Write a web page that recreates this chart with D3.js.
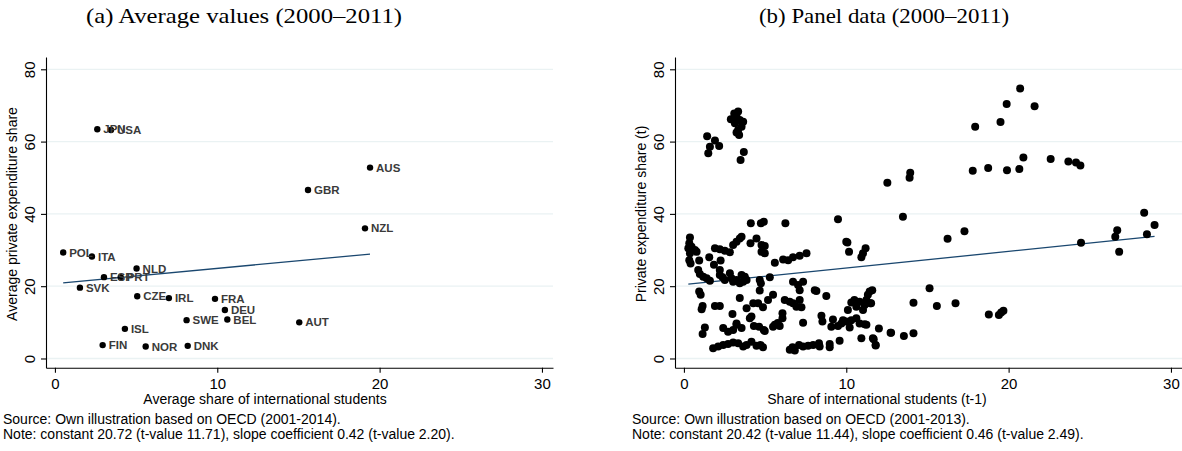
<!DOCTYPE html>
<html>
<head>
<meta charset="utf-8">
<script src="https://cdn.jsdelivr.net/npm/d3@7"></script>
<style>
  body { margin: 0; background: #fff; }
  svg { display: block; font-family: "Liberation Sans", Arial, sans-serif; }
  .grid line { stroke: #eaf2f3; stroke-width: 1.3; }
  .axis path, .axis line { stroke: #000; stroke-width: 1.1; }
  .axis text { font-size: 15px; fill: #000; }
  .ctry { font-size: 11.5px; font-weight: bold; fill: #3a3a3a; }
</style>
</head>
<body>
<svg id="chart" width="1182" height="451"></svg>
<script>
// (a) country averages 2000-2011
var countries = ["JPN","USA","AUS","GBR","NZL","POL","ITA","NLD","ESP","PRT","SVK","CZE","IRL","FRA","DEU","BEL","SWE","AUT","ISL","FIN","NOR","DNK"];
var avgShare = [2.61, 3.45, 19.41, 15.59, 19.1, 0.51, 2.28, 5.03, 3.02, 4.05, 1.54, 5.07, 7.02, 9.86, 10.47, 10.62, 8.11, 15.05, 4.31, 2.94, 5.59, 8.18];
var avgPrivate = [63.4, 63.2, 52.8, 46.6, 36.0, 29.3, 28.2, 24.9, 22.5, 22.5, 19.6, 17.2, 16.7, 16.5, 13.4, 10.8, 10.6, 10.0, 8.2, 3.7, 3.3, 3.5];

// (b) country-year panel
var panelShare = [1.43,1.60,1.50,1.91,2.17,
  2.89,3.10,3.34,3.24,3.14,3.44,3.65,3.55,3.34,3.24,3.40,3.69,3.49,
  12.53,13.94,13.90,20.71,19.88,21.60,19.50,17.94,
  17.79,18.74,19.90,20.66,20.91,22.59,23.68,24.15,24.42,
  13.49,16.24,17.28,24.46,26.57,26.69,28.35,28.52,28.99,26.81,
  15.13,14.14,15.58,16.73,12.73,13.55,14.14,11.69,11.81,12.01,
  18.78,19.40,19.54,19.68,
  4.12,4.74,4.92,6.25,9.49,10.07,4.47,4.10,3.55,
  0.37,0.33,0.27,0.47,0.37,0.68,0.78,0.33,0.41,0.94,0.88,0.98,1.19,1.40,1.60,0.94,1.03,1.15,1.09,1.29,1.15,
  1.56,1.85,2.26,1.91,2.21,2.52,2.83,3.03,3.24,3.44,
  2.21,2.21,2.38,2.52,2.83,2.93,3.03,3.24,3.44,3.65,3.55,3.75,3.86,3.44,
  4.78,4.98,4.78,4.98,4.67,4.74,4.67,5.29,5.18,5.49,
  5.60,6.11,6.42,6.72,7.13,7.55,
  1.91,2.21,2.99,3.86,4.27,4.57,4.87,4.06,4.31,4.63,4.92,
  2.42,2.72,3.03,3.24,3.55,5.49,5.90,6.07,6.07,
  1.80,2.11,2.42,2.72,3.03,3.34,3.65,3.86,4.16,4.47,4.72,4.87,
  6.52,6.69,6.83,7.09,7.34,7.65,7.96,8.32,8.36,8.98,8.98,9.59,
  6.21,6.52,6.72,7.13,6.93,7.24,7.34,
  6.72,7.03,7.13,7.34,8.06,8.16,8.77,
  8.47,8.53,9.18,9.08,9.49,9.70,9.80,10.00,10.21,10.31,10.62,10.82,11.13,11.24,10.93,11.64,11.81,12.76,
  10.10,10.31,10.50,10.62,10.82,11.03,11.13,11.24,11.33,11.44,11.60,11.48,11.53,
  10.00,10.17,10.93,11.03,11.19,
  5.78,5.60,3.24,4.16,4.98];
var panelPrivate = [61.5,58.6,56.8,60.3,58.8,
  66.2,67.8,68.3,66.9,65.1,66.0,65.5,64.1,63.2,62.5,61.8,57.1,54.9,
  48.6,51.4,50.0,74.7,70.4,69.8,65.4,64.1,
  51.9,52.7,52.1,52.4,55.6,55.2,54.5,54.2,53.4,
  39.2,33.1,35.2,32.0,33.7,35.5,40.3,34.4,36.9,29.5,
  19.4,15.4,14.5,15.3,7.1,6.2,7.0,5.3,3.6,8.3,
  12.2,12.0,12.7,13.2,
  37.4,37.4,37.8,37.4,38.5,32.1,33.2,31.9,33.7,
  33.5,31.9,30.5,30.9,29.1,30.0,29.5,27.2,26.3,27.1,24.5,23.4,22.6,22.2,21.5,18.5,17.6,14.5,13.6,8.6,6.8,
  28.0,25.9,27.1,30.5,30.2,29.8,29.4,31.4,32.3,33.2,
  24.5,23.1,22.5,21.7,23.6,22.2,21.2,21.7,20.8,21.2,23.1,22.6,21.7,16.7,
  31.4,31.1,29.5,29.1,21.7,20.8,18.8,22.5,16.2,17.6,
  26.5,27.4,27.2,28.0,28.4,29.1,
  14.5,14.5,12.3,13.9,15.3,15.3,14.2,11.1,9.0,8.8,7.9,
  8.4,7.4,7.9,9.3,8.4,8.8,9.0,11.1,12.5,
  2.8,3.3,3.7,4.0,4.4,4.2,3.3,3.7,4.6,3.5,3.7,3.1,
  2.4,3.1,2.2,3.7,3.3,3.5,3.7,4.2,3.3,4.0,3.1,4.9,
  16.2,15.7,15.3,16.2,14.3,14.2,9.9,
  21.2,20.3,18.9,21.2,18.9,18.7,17.3,
  11.8,10.2,10.8,8.8,9.0,9.7,10.6,10.2,8.6,10.6,11.1,9.7,9.5,9.3,5.6,5.6,3.7,7.1,
  13.4,15.5,16.2,14.3,15.7,13.4,14.8,16.2,17.6,18.5,18.9,15.3,15.3,
  32.3,29.5,28.0,29.1,30.5,
  9.8,9.3,9.7,11.6,7.6];

// OLS fits reported in the notes
var fitA = { constant: 20.72, slope: 0.42 };
var fitB = { constant: 20.42, slope: 0.46 };

var yTicks = [0, 20, 40, 60, 80];
var xTicks = [0, 10, 20, 30];

var svg = d3.select("#chart");

function drawPanel(opt) {
  var ox = opt.offset;
  var x = d3.scaleLinear().domain([-0.55, 30.68]).range([ox + 46, ox + 553]);
  var y = d3.scaleLinear().domain([-2.55, 83.4]).range([367.7, 57]);
  var g = svg.append("g");

  g.append("g").attr("class", "grid")
    .selectAll("line").data(yTicks).enter().append("line")
    .attr("x1", x.range()[0]).attr("x2", x.range()[1])
    .attr("y1", function(d) { return y(d); })
    .attr("y2", function(d) { return y(d); });

  var yAxis = g.append("g").attr("class", "axis")
    .attr("transform", "translate(" + (ox + 46) + ",0)")
    .call(d3.axisLeft(y).tickValues(yTicks).tickSize(5).tickSizeOuter(0));
  yAxis.selectAll("text")
    .attr("x", null).attr("dy", null)
    .attr("text-anchor", "middle")
    .attr("transform", "translate(-11,0) rotate(-90)");

  g.append("g").attr("class", "axis")
    .attr("transform", "translate(0,367.7)")
    .call(d3.axisBottom(x).tickValues(xTicks).tickSize(5).tickSizeOuter(0).tickPadding(6));

  var xs = opt.xs, ys = opt.ys;
  var lo = d3.min(xs), hi = d3.max(xs);
  g.append("line")
    .attr("x1", x(lo)).attr("y1", y(opt.fit.constant + opt.fit.slope * lo))
    .attr("x2", x(hi)).attr("y2", y(opt.fit.constant + opt.fit.slope * hi))
    .attr("stroke", "#1a476f").attr("stroke-width", 1.3);

  g.selectAll(".pt").data(xs).enter().append("circle")
    .attr("class", "pt")
    .attr("cx", function(d) { return x(d); })
    .attr("cy", function(d, i) { return y(ys[i]); })
    .attr("r", opt.r)
    .attr("fill", "#000");

  if (opt.labels) {
    g.selectAll(".ctry").data(opt.labels).enter().append("text")
      .attr("class", "ctry")
      .attr("x", function(d, i) { return x(xs[i]) + 6; })
      .attr("y", function(d, i) { return y(ys[i]); })
      .attr("dy", "0.36em")
      .text(function(d) { return d; });
  }

  svg.append("text")
    .attr("x", opt.titleX).attr("y", 23)
    .attr("text-anchor", "middle")
    .attr("textLength", opt.titleW)
    .attr("lengthAdjust", "spacingAndGlyphs")
    .style("font-family", "'Liberation Serif', 'DejaVu Serif', serif")
    .style("font-size", "22px")
    .text(opt.title);

  svg.append("text")
    .attr("transform", "translate(" + (ox + 17) + "," + 214 + ") rotate(-90)")
    .attr("text-anchor", "middle")
    .style("font-size", "14px")
    .text(opt.yTitle);

  svg.append("text")
    .attr("x", opt.xTitleX).attr("y", 404)
    .attr("text-anchor", "middle")
    .style("font-size", "14px")
    .text(opt.xTitle);

  var notes = svg.append("text").style("font-size", "14px");
  opt.notes.forEach(function(t, i) {
    notes.append("tspan").attr("x", opt.noteX).attr("y", 424 + i * 15).text(t);
  });
}

drawPanel({
  offset: 0, xs: avgShare, ys: avgPrivate, labels: countries, r: 3.2, fit: fitA,
  title: "(a) Average values (2000\u20132011)", titleX: 244, titleW: 316,
  yTitle: "Average private expenditure share",
  xTitle: "Average share of international students", xTitleX: 265,
  noteX: 3,
  notes: ["Source: Own illustration based on OECD (2001-2014).",
          "Note: constant 20.72 (t-value 11.71), slope coefficient 0.42 (t-value 2.20)."]
});

drawPanel({
  offset: 629, xs: panelShare, ys: panelPrivate, labels: null, r: 4, fit: fitB,
  title: "(b) Panel data (2000\u20132011)", titleX: 884, titleW: 250,
  yTitle: "Private expenditure share (t)",
  xTitle: "Share of international students (t-1)", xTitleX: 877,
  noteX: 632,
  notes: ["Source: Own illustration based on OECD (2001-2013).",
          "Note: constant 20.42 (t-value 11.44), slope coefficient 0.46 (t-value 2.49)."]
});
</script>
</body>
</html>
